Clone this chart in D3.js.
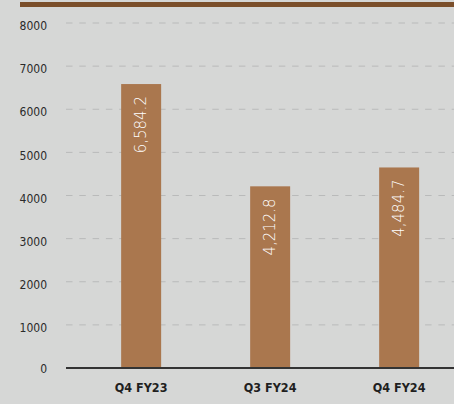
<!DOCTYPE html>
<html>
<head>
<meta charset="utf-8">
<script src="https://cdn.jsdelivr.net/npm/d3@7"></script>
<style>
  html, body { margin: 0; padding: 0; background: #d6d7d6; }
  svg { display: block; }
</style>
</head>
<body>
<div id="chart"></div>
<script>
// Chart data
const categories = ['Q4 FY23', 'Q3 FY24', 'Q4 FY24'];
const barValues = [6584.2, 4212.8, 4650];
const valueLabels = ['6,584.2', '4,212.8', '4,484.7'];
const yTicks = [0, 1000, 2000, 3000, 4000, 5000, 6000, 7000, 8000];

const width = 454, height = 404;
const margin = { top: 23, right: 0, bottom: 35, left: 66 };

const svg = d3.select('#chart')
    .append('svg')
    .attr('width', width)
    .attr('height', height);

svg.append('rect')
    .attr('width', width)
    .attr('height', height)
    .attr('fill', '#d6d7d6');

// Top accent band
svg.append('rect')
    .attr('x', 20)
    .attr('y', 2)
    .attr('width', width - 20)
    .attr('height', 5)
    .attr('fill', '#7b4f2b');

const y = d3.scaleLinear()
    .domain([0, 8000])
    .range([height - margin.bottom - 1, margin.top]);

const x = d3.scaleBand()
    .domain(categories)
    .range([76, 464.3])
    .paddingInner(0.69)
    .paddingOuter(0.35);

// Grid lines
svg.append('g')
    .selectAll('line')
    .data(yTicks.filter(d => d > 0))
    .join('line')
    .attr('x1', margin.left)
    .attr('x2', width)
    .attr('y1', d => y(d))
    .attr('y2', d => y(d))
    .attr('stroke', '#b9baba')
    .attr('stroke-width', 1)
    .attr('stroke-dasharray', '6.5,6.8');

// Y tick labels
svg.append('g')
    .selectAll('text')
    .data(yTicks)
    .join('text')
    .attr('x', 47)
    .attr('y', d => y(d) + (d === 0 ? 1 : 3))
    .attr('dy', '0.35em')
    .attr('text-anchor', 'end')
    .style('font-family', '"Liberation Sans Narrow", "DejaVu Sans Condensed", sans-serif')
    .style('font-size', '12px')
    .style('fill', '#2a2a2a')
    .text(d => d);

// Bars
svg.append('g')
    .selectAll('rect')
    .data(barValues)
    .join('rect')
    .attr('x', (d, i) => x(categories[i]))
    .attr('y', d => y(d))
    .attr('width', x.bandwidth())
    .attr('height', d => y(0) - y(d))
    .attr('fill', '#aa774e');

// Baseline
svg.append('line')
    .attr('x1', margin.left)
    .attr('x2', width)
    .attr('y1', y(0))
    .attr('y2', y(0))
    .attr('stroke', '#333')
    .attr('stroke-width', 2);

// Value labels (rotated inside bars)
svg.append('g')
    .selectAll('text')
    .data(barValues)
    .join('text')
    .attr('transform', (d, i) => {
        const cx = x(categories[i]) + x.bandwidth() / 2;
        return `translate(${cx},${y(d) + 12}) rotate(-90)`;
    })
    .attr('dy', '0.35em')
    .attr('text-anchor', 'end')
    .style('font-family', '"DejaVu Sans", sans-serif')
    .style('font-weight', '300')
    .style('font-size', '15px')
    .style('fill', '#ffffff')
    .text((d, i) => valueLabels[i]);

// Category labels
svg.append('g')
    .selectAll('text')
    .data(categories)
    .join('text')
    .attr('x', d => x(d) + x.bandwidth() / 2)
    .attr('y', 388)
    .attr('dy', '0.35em')
    .attr('text-anchor', 'middle')
    .style('font-family', '"Liberation Sans Narrow", "DejaVu Sans Condensed", sans-serif')
    .style('font-weight', 'bold')
    .style('font-size', '12.5px')
    .style('fill', '#1f1f1f')
    .text(d => d);
</script>
</body>
</html>
